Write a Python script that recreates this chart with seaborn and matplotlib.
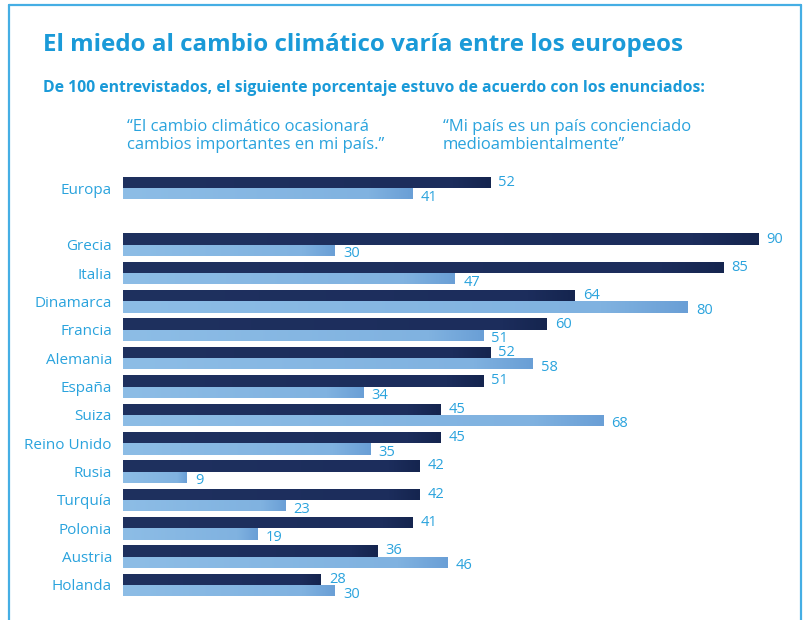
import matplotlib
matplotlib.use("Agg")
import matplotlib.pyplot as plt
from matplotlib.lines import Line2D
from matplotlib.colors import LinearSegmentedColormap
import numpy as np
import pandas as pd
import seaborn as sns

# Survey data: share of respondents (out of 100) agreeing with each statement
countries = ["Europa", "Grecia", "Italia", "Dinamarca", "Francia", "Alemania", "España",
             "Suiza", "Reino Unido", "Rusia", "Turquía", "Polonia", "Austria", "Holanda"]
cambio_importante = [52, 90, 85, 64, 60, 52, 51, 45, 45, 42, 42, 41, 36, 28]
pais_concienciado = [41, 30, 47, 80, 51, 58, 34, 68, 35, 9, 23, 19, 46, 30]

series_names = ["“El cambio climático ocasionará\ncambios importantes en mi país.”",
                "“Mi país es un país concienciado\nmedioambientalmente”"]
title = "El miedo al cambio climático varía entre los europeos"
subtitle = "De 100 entrevistados, el siguiente porcentaje estuvo de acuerdo con los enunciados:"

# Category order with an empty slot separating the European average from the countries
order = [countries[0], " "] + countries[1:]

df = pd.DataFrame({
    "pais": countries * 2,
    "valor": cambio_importante + pais_concienciado,
    "serie": [series_names[0]] * len(countries) + [series_names[1]] * len(countries),
})

DARK = "#1c2e5e"
LIGHT = "#85b6e2"
CYAN = "#1a9ad8"
TEXT = "#2aa3dd"
FRAME = "#45aee4"

sns.set_theme(style="white")
plt.rcParams["font.family"] = ["Open Sans", "DejaVu Sans"]

W, H = 808, 620
fig = plt.figure(figsize=(W / 100, H / 100), dpi=100)
fig.patch.set_facecolor("white")

x0, x1 = 123, 790
y_top, y_bot = 171, 602
ax = fig.add_axes([x0 / W, 1 - y_bot / H, (x1 - x0) / W, (y_bot - y_top) / H])

sns.barplot(data=df, y="pais", x="valor", hue="serie", order=order,
            hue_order=series_names, palette=[DARK, LIGHT], saturation=1,
            orient="h", width=0.8, legend=False, linewidth=0, ax=ax)

xlim = (0, (x1 - x0) / 7.06)
ylim = (len(order) - 0.4, -0.6)

# Subtle horizontal shading on the bars, slightly darker at the tip
light_cmap = LinearSegmentedColormap.from_list(
    "light", [(0, "#8dbde6"), (0.85, "#80b2e0"), (1, "#6a9fd6")])
dark_cmap = LinearSegmentedColormap.from_list(
    "dark", [(0, "#1f315f"), (0.9, "#1c2d5c"), (1, "#15254f")])
grad = np.linspace(0, 1, 256).reshape(1, -1)
for cont, cmap in zip(ax.containers, [dark_cmap, light_cmap]):
    for p in cont.patches:
        w = p.get_width()
        y, h = p.get_y(), p.get_height()
        im = ax.imshow(grad, extent=(0, w, y + h, y), cmap=cmap, aspect="auto",
                       interpolation="bilinear", zorder=p.get_zorder() + 0.1)
        im.set_clip_path(p)

ax.set_xlim(*xlim)
ax.set_ylim(*ylim)
ax.set_xlabel("")
ax.set_ylabel("")
ax.set_xticks([])
for s in ax.spines.values():
    s.set_visible(False)
ax.tick_params(axis="y", length=0, pad=8, labelsize=11, labelcolor=TEXT)

# Value labels at the end of each bar
for i, cont in enumerate(ax.containers):
    dy = 0 if i == 0 else -2.5
    for p in cont.patches:
        v = p.get_width()
        ax.annotate(f"{v:.0f}", (v, p.get_y() + p.get_height() / 2),
                    xytext=(6, dy), textcoords="offset points",
                    ha="left", va="center", fontsize=10.5, color=TEXT)

# Headings
fig.text(43 / W, 1 - 45 / H, title, fontsize=17.4, fontweight="bold", color=CYAN,
         ha="left", va="center")
fig.text(43 / W, 1 - 88 / H, subtitle, fontsize=11.3, fontweight="bold", color=CYAN,
         ha="left", va="center")

# Series captions
fig.text(127 / W, 1 - 136 / H, series_names[0], fontsize=12, color=TEXT,
         ha="left", va="center", linespacing=1.15)
fig.text(443 / W, 1 - 136 / H, series_names[1], fontsize=12, color=TEXT,
         ha="left", va="center", linespacing=1.15)

# Outer frame open at the bottom
fx0, fx1, fy = 9 / W, 801 / W, 1 - 5 / H
for xs, ys in [([fx0, fx1], [fy, fy]), ([fx0, fx0], [fy, 0]), ([fx1, fx1], [fy, 0])]:
    fig.add_artist(Line2D(xs, ys, color=FRAME, lw=1.6, transform=fig.transFigure))

fig.savefig("out.png", dpi=100, facecolor="white")
